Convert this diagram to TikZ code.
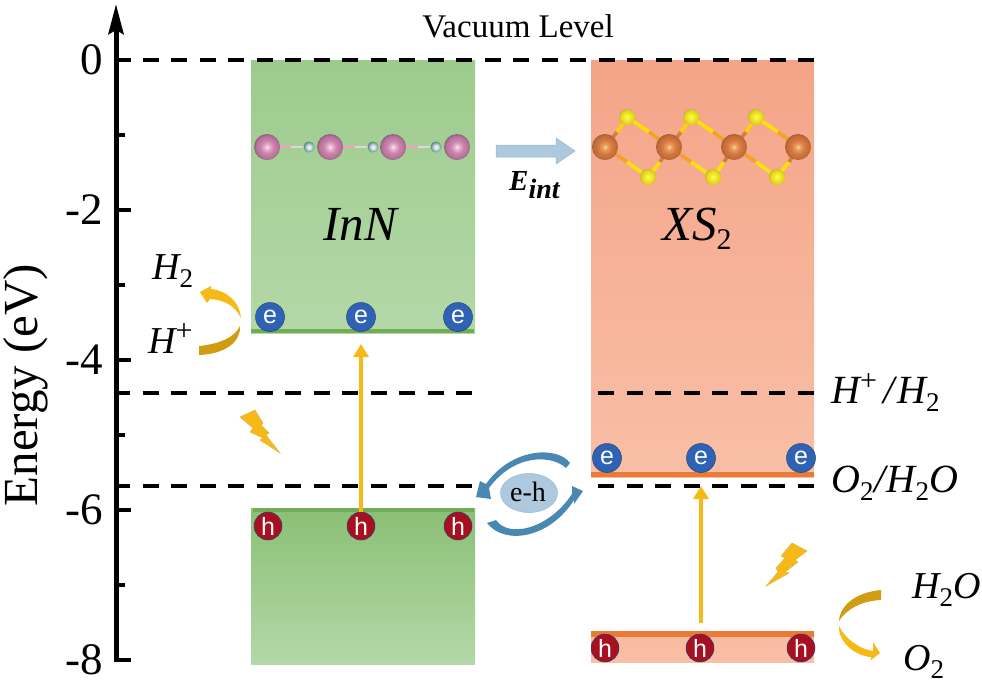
\documentclass[tikz,border=0pt]{standalone}
\usepackage{fontspec}
\setmainfont{Liberation Serif}
\setsansfont{Liberation Sans}
\usetikzlibrary{arrows.meta,shapes.geometric}
\definecolor{gtop}{HTML}{9DCB8C}
\definecolor{gbot}{HTML}{B4D8A8}
\definecolor{gline}{HTML}{6FAE52}
\definecolor{otop}{HTML}{F4A488}
\definecolor{obot}{HTML}{F8BFA6}
\definecolor{oline}{HTML}{E97B35}
\definecolor{ered}{HTML}{2F62B4}
\definecolor{hred}{HTML}{A81020}
\definecolor{gold}{HTML}{F7B917}
\definecolor{dgold}{HTML}{D09C12}
\definecolor{arrblue}{HTML}{4A88B4}
\pgfdeclareradialshading{inball}{\pgfpoint{0bp}{0bp}}{rgb(0bp)=(.99,.90,.95);rgb(4bp)=(.93,.72,.84);rgb(12bp)=(.80,.52,.68);rgb(21bp)=(.72,.45,.60);rgb(25bp)=(.55,.38,.50);rgb(50bp)=(.55,.38,.50)}
\pgfdeclareradialshading{nball}{\pgfpoint{0bp}{0bp}}{rgb(0bp)=(.95,.98,.98);rgb(10bp)=(.80,.88,.88);rgb(20bp)=(.50,.66,.66);rgb(25bp)=(.35,.50,.50);rgb(50bp)=(.35,.50,.50)}
\pgfdeclareradialshading{sball}{\pgfpoint{0bp}{0bp}}{rgb(0bp)=(.98,.98,.45);rgb(10bp)=(.95,.92,.15);rgb(21bp)=(.90,.82,.12);rgb(25bp)=(.78,.72,.20);rgb(50bp)=(.78,.72,.20)}
\pgfdeclareradialshading{xball}{\pgfpoint{0bp}{0bp}}{rgb(0bp)=(.98,.82,.62);rgb(6bp)=(.90,.60,.35);rgb(14bp)=(.83,.47,.24);rgb(22bp)=(.76,.42,.22);rgb(25bp)=(.62,.38,.24);rgb(50bp)=(.62,.38,.24)}
\newcommand{\subt}[1]{\raisebox{-8pt}{\fontsize{27}{27}\selectfont\upshape #1}}
\newcommand{\supt}[1]{\raisebox{13pt}{\fontsize{30}{30}\selectfont\upshape #1}}
\tikzset{
 dashline/.style={line width=3.4pt,dash pattern=on 16pt off 12.5pt},
 energy/.style={line width=3.5pt,draw=#1},
 upar/.style={line width=4pt,draw=gold,-{Stealth[length=13pt,width=15pt,inset=0pt]}},
 elec/.style={circle,minimum size=29pt,inner sep=0pt,fill=ered,draw=ered!70!black,line width=.5pt,text=white,font=\sffamily\fontsize{25}{25}\selectfont},
 hole/.style={circle,minimum size=28pt,inner sep=0pt,fill=hred,draw=ered!70!black,line width=.5pt,text=white,font=\sffamily\fontsize{25}{25}\selectfont},
 lbl/.style={inner sep=0pt,font=\fontsize{#1}{#1}\selectfont},
 chem/.style={inner sep=0pt,anchor=base west,font=\fontsize{38}{38}\selectfont\itshape},
 chemb/.style={inner sep=0pt,anchor=base west,font=\fontsize{40}{40}\selectfont\itshape},
 bigchem/.style={inner sep=0pt,anchor=base west,font=\fontsize{49}{49}\selectfont\itshape},
 bolt/.style={fill=gold,draw=dgold!80!white,line width=.4pt},
 xsbond/.style={line width=3.6pt,draw=#1},
}
\begin{document}
\begin{tikzpicture}[x=1pt,y=-1pt]
\useasboundingbox[fill=white] (0,0) rectangle (982,686);
% bands
\shade[top color=gtop,bottom color=gbot] (251,60) rectangle (475,333);
\shade[top color=gline!40!gtop,bottom color=gbot] (251,508) rectangle (475,664);
\shade[top color=otop,bottom color=obot] (591,60) rectangle (814,477);
\shade[top color=obot!80!otop,bottom color=obot] (591,632) rectangle (814,662);
% dashed
\coordinate (d0a) at (114,60); \coordinate (d0b) at (814,60);
\draw[dashline] (d0a) -- (d0b);
\coordinate (d1a) at (114,393); \coordinate (d1b) at (475,393);
\draw[dashline] (d1a) -- (d1b);
\coordinate (d2a) at (598,393); \coordinate (d2b) at (814,393);
\draw[dashline] (d2a) -- (d2b);
\coordinate (d3a) at (114,486); \coordinate (d3b) at (480,486);
\draw[dashline] (d3a) -- (d3b);
\coordinate (d4a) at (598,486); \coordinate (d4b) at (814,486);
\draw[dashline] (d4a) -- (d4b);
% axis
\coordinate (axb) at (116,662); \coordinate (axt) at (116,4);
\draw[line width=5pt,-{Stealth[length=30pt,width=15pt,inset=4pt]}] (axb) -- (axt);
\foreach \y in {60,210,360,510,660} \draw[line width=3.4pt] (116,\y) -- (131,\y);
\foreach \y in {135,285,435,585} \draw[line width=3.4pt] (116,\y) -- (125,\y);
\foreach \y/\t in {60/0,210/-2,360/-4,510/-6,660/-8}
  \node[lbl=45,anchor=east] at (103,\y) {\t};
\node[lbl=49,rotate=90] (ylab) at (26,385) {Energy (eV)};
\node[lbl=33] (vac) at (518,26) {Vacuum Level};
% energy lines
\draw[energy=gline] (251,331) -- (474,331);
\draw[energy=gline] (253,510) -- (474,510);
\draw[energy=oline,line width=5pt] (591,474.5) -- (814,474.5);
\draw[energy=oline,line width=5.5pt] (591,634) -- (814,634);
% InN
\foreach \x in {309,373,436}{
  \draw[line width=2.4pt,draw=pink!80!magenta] (\x-43,147) -- (\x-18,147);
  \draw[line width=2.4pt,draw=gray!30!white] (\x-18,147) -- (\x,147);
  \draw[line width=2.4pt,draw=gray!30!white] (\x,147) -- (\x+2,147);
}
\foreach \x in {309,373,436}
  \shade[shading=nball] (\x,147) circle (5.5);
\foreach \x/\n in {267/a,330/b,393/c,457/d}
  \shade[shading=inball] (\x,147) circle (13);
% XS2
\foreach \x/\u/\d in {605/627/648,669/691/713,734/756/777}{
  \draw[xsbond=oline!70!brown] (\x,147) -- (\x+12,132);
  \draw[xsbond=yellow!70!orange] (\x+12,132) -- (\u,117);
  \draw[xsbond=oline!70!yellow] (\x,147) -- (\x+22,162);
  \draw[xsbond=yellow!85!orange] (\x+22,162) -- (\d,177);
  \draw[xsbond=yellow!85!orange] (\u,117) -- (\x+44,132);
  \draw[xsbond=oline!70!yellow] (\x+44,132) -- (\x+64,147);
  \draw[xsbond=yellow!85!orange] (\d,177) -- (\x+55,162);
  \draw[xsbond=oline!70!brown] (\x+55,162) -- (\x+64,147);
}
\foreach \x in {627,691,756} \shade[shading=sball] (\x,117) circle (8);
\foreach \x in {648,713,777} \shade[shading=sball] (\x,177) circle (8);
\foreach \x in {605,669,734,798} \shade[shading=xball] (\x,147) circle (13);
% field arrow
\fill[fill=arrblue!45!white,draw=arrblue!60!white,line width=.5pt] (496,145) -- (556,145) -- (556,138) -- (575,151) -- (556,164) -- (556,157) -- (496,157) -- cycle;
\node[inner sep=0pt,anchor=base west,font=\fontsize{29}{29}\selectfont\bfseries\itshape] (eint) at (509,190) {E\raisebox{-8pt}{\fontsize{28}{28}\selectfont int}};
% band labels
\node[bigchem] (inn) at (323,240) {InN};
\node[bigchem] (xs) at (662,240) {XS\raisebox{-9pt}{\fontsize{30}{30}\selectfont\upshape 2}};
% carriers
\foreach \x/\n in {270/e1,361/e2,458/e3} \node[elec] (\n) at (\x,317) {e};
\foreach \x/\n in {268/h1,361/h2,458/h3} \node[hole] (\n) at (\x,526) {h};
\foreach \x/\n in {607/e4,701/e5,801/e6} \node[elec] (\n) at (\x,458) {e};
\foreach \x/\n in {605/h4,700/h5,801/h6} \node[hole] (\n) at (\x,648) {h};
% excitation
\coordinate (t1) at (361,344);
\coordinate (s2) at (701,623); \coordinate (t2) at (701,486);
\draw[upar] (h2.north) -- (t1);
\draw[upar] (s2) -- (t2);
% lightning
\draw[bolt] (240,417) -- (255,410) -- (263,423) -- (261,425) -- (269,433) -- (266,435) -- (280,453) -- (260,440) -- (263,438) -- (250,432) -- (253,428) -- cycle;
\draw[bolt] (792,543) -- (807,551) -- (795,560) -- (798,562) -- (785,572) -- (789,573) -- (766,586) -- (778,572) -- (776,568) -- (785,558) -- (781,556) -- cycle;
% H2 arc
\fill[gold] (200,292) -- (211,286) -- (211,289) .. controls (228,291) and (240,303) .. (241,318) .. controls (235,306) and (225,300) .. (210,299) -- (207,303) -- cycle;
\fill[dgold] (240,326) .. controls (241,342) and (225,354) .. (199,355) -- (199,346) .. controls (220,344) and (235,337) .. (240,326) -- cycle;
% O2 arc
\fill[dgold] (881,590) -- (881,600) .. controls (860,601) and (846,610) .. (839,621) .. controls (840,604) and (858,592) .. (881,590) -- cycle;
\fill[gold] (839,626) .. controls (846,640) and (860,649) .. (873,651) -- (873,642) -- (880,653) -- (871,660) -- (871,657) .. controls (855,656) and (838,642) .. (839,626) -- cycle;
% eh
\node[ellipse,minimum width=57pt,minimum height=39pt,inner sep=0pt,fill=arrblue!45!white,draw=arrblue!60!white,line width=.5pt] (eh) at (529,493) {};
\node[lbl=28] at (528,492) {e-h};
\fill[arrblue] (570,463) .. controls (558,446) and (512,447) .. (486,484) -- (480,481) -- (476,497) -- (491,499) -- (489,488) .. controls (515,453) and (552,455) .. (566,468) -- cycle;
\fill[arrblue] (487,523) .. controls (505,546) and (550,538) .. (574,500) -- (574,504) -- (583,491) -- (572,486) -- (572,494) .. controls (548,530) and (508,538) .. (496,520) -- cycle;
% right labels
\node[chemb] (a1) at (831,403) {H\supt{+}\hspace{6pt}/\hspace{3pt}H\subt{2}};
\node[chemb] (a2) at (831,492) {O\subt{2}\hspace{1pt}/\hspace{1pt}H\subt{2}O};
\node[chem] (a3) at (912,598) {H\subt{2}O};
\node[chem] (a4) at (903,670) {O\subt{2}};
\node[chem] (a5) at (152,279) {H\subt{2}};
\node[chem] (a6) at (148,353) {H\supt{+}};
\end{tikzpicture}
\end{document}
